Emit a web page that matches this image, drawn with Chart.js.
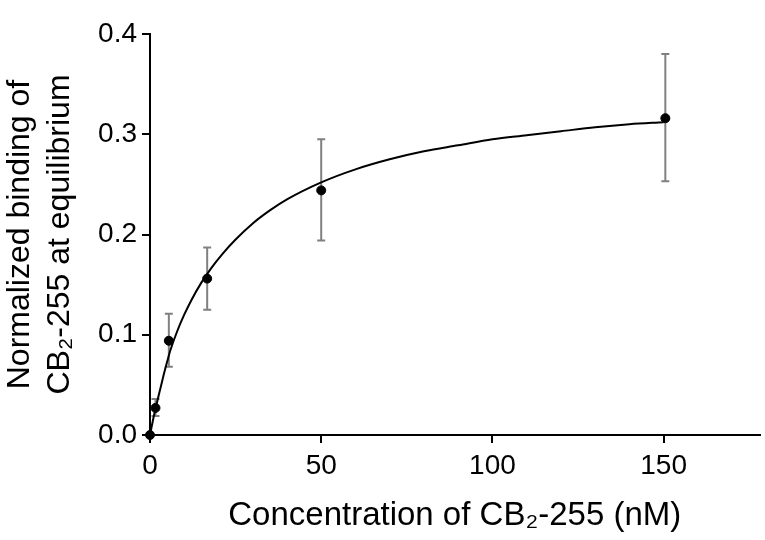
<!DOCTYPE html>
<html>
<head>
<meta charset="utf-8">
<script src="https://cdn.jsdelivr.net/npm/chart.js@4/dist/chart.umd.min.js"></script>
<style>
  html, body { margin: 0; padding: 0; background: #fff; }
  #wrap { width: 765px; height: 540px; }
</style>
</head>
<body>
<div id="wrap"><canvas id="grafico"></canvas></div>
<script>
// pontos medidos (concentração em nM)
const concentrations = [0, 1.6, 5.5, 16.7, 50, 150.5];
const binding = [0.0, 0.027, 0.094, 0.156, 0.244, 0.316];
const errLow = [0.0, 0.019, 0.068, 0.125, 0.194, 0.253];
const errHigh = [0.0, 0.036, 0.121, 0.187, 0.295, 0.380];

// curva ajustada
const fitX = [0, 1, 2, 3, 4, 5, 6, 8, 10, 12, 15, 18, 21, 25, 30, 35, 40, 50, 60, 70, 80, 90, 100, 110, 120, 130, 140, 150];
const fitY = [0, 0.017, 0.032, 0.046, 0.060, 0.073, 0.085, 0.104, 0.120, 0.134, 0.152, 0.167, 0.180, 0.195, 0.211, 0.224, 0.235, 0.252, 0.265, 0.275, 0.283, 0.289, 0.295, 0.299, 0.303, 0.307, 0.310, 0.312];

const xTicks = [0, 50, 100, 150];
const yTicks = [0, 0.1, 0.2, 0.3, 0.4];

const fonte = "'Liberation Sans', Arial, 'DejaVu Sans', sans-serif";

// barras de erro desenhadas por baixo dos pontos
const errorBars = {
  id: "errorBars",
  beforeDatasetsDraw(chart) {
    const { ctx, scales: { x, y } } = chart;
    ctx.save();
    ctx.strokeStyle = "#808080";
    ctx.lineWidth = 2;
    concentrations.forEach((c, i) => {
      if (errHigh[i] === errLow[i]) return;
      const px = x.getPixelForValue(c);
      const top = y.getPixelForValue(errHigh[i]);
      const bot = y.getPixelForValue(errLow[i]);
      ctx.beginPath();
      ctx.moveTo(px, top); ctx.lineTo(px, bot);
      ctx.moveTo(px - 4, top); ctx.lineTo(px + 4, top);
      ctx.moveTo(px - 4, bot); ctx.lineTo(px + 4, bot);
      ctx.stroke();
    });
    ctx.restore();
  }
};

new Chart(document.getElementById("grafico"), {
  type: "scatter",
  data: {
    datasets: [
      {
        label: "Ajuste",
        type: "line",
        data: fitX.map((v, i) => ({ x: v, y: fitY[i] })),
        borderColor: "#000",
        borderWidth: 2,
        pointRadius: 0,
        cubicInterpolationMode: "monotone",
        fill: false,
        clip: false,
        order: 2
      },
      {
        label: "Dados",
        data: concentrations.map((v, i) => ({ x: v, y: binding[i] })),
        backgroundColor: "#000",
        borderColor: "#000",
        pointRadius: 4.5,
        clip: false,
        order: 1
      }
    ]
  },
  options: {
    responsive: true,
    maintainAspectRatio: false,
    animation: false,
    layout: { padding: { top: 34, right: 0, left: 0, bottom: 0 } },
    plugins: {
      legend: { display: false },
      tooltip: { enabled: false }
    },
    scales: {
      x: {
        type: "linear",
        min: 0,
        max: 178,
        afterBuildTicks: s => { s.ticks = xTicks.map(v => ({ value: v })); },
        afterFit: s => { s.height = 105; },
        border: { color: "#000", width: 2 },
        grid: { drawOnChartArea: false, drawTicks: true, tickLength: 8, color: "#000", lineWidth: 2 },
        ticks: { color: "#000", font: { family: fonte, size: 28 }, padding: 6, maxRotation: 0 },
        title: {
          display: true,
          text: "Concentration of CB\u2082-255 (nM)",
          color: "#000",
          font: { family: fonte, size: 33 },
          padding: { top: 0, bottom: 4 }
        }
      },
      y: {
        min: 0,
        max: 0.4,
        afterBuildTicks: s => { s.ticks = yTicks.map(v => ({ value: v })); },
        afterFit: s => { s.width = 150; },
        border: { color: "#000", width: 2 },
        grid: { drawOnChartArea: false, drawTicks: true, tickLength: 8, color: "#000", lineWidth: 2 },
        ticks: {
          color: "#000",
          font: { family: fonte, size: 28 },
          padding: 5,
          callback: v => v.toFixed(1)
        },
        title: {
          display: true,
          text: ["Normalized binding of", "CB\u2082-255 at equilibrium"],
          color: "#000",
          font: { family: fonte, size: 32, lineHeight: 1.25 },
          padding: { top: 0, bottom: 0 }
        }
      }
    }
  },
  plugins: [errorBars]
});
</script>
</body>
</html>
